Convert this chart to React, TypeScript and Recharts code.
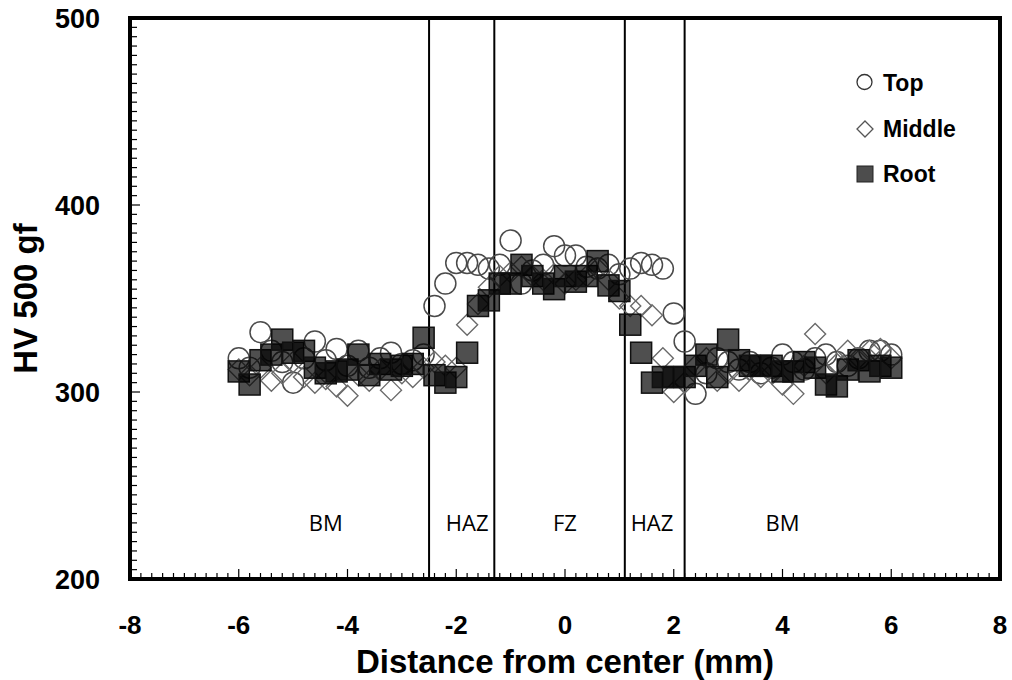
import React from "react";
import {
  ScatterChart,
  Scatter,
  XAxis,
  YAxis,
  ReferenceLine,
  ReferenceArea,
  ReferenceDot,
  Legend,
} from "recharts";

// distance from weld center (mm), one point every 0.2 mm
const distances = [
  -6.0, -5.8, -5.6, -5.4, -5.2, -5.0, -4.8, -4.6, -4.4, -4.2, -4.0, -3.8, -3.6,
  -3.4, -3.2, -3.0, -2.8, -2.6, -2.4, -2.2, -2.0, -1.8, -1.6, -1.4, -1.2, -1.0,
  -0.8, -0.6, -0.4, -0.2, 0.0, 0.2, 0.4, 0.6, 0.8, 1.0, 1.2, 1.4, 1.6, 1.8, 2.0,
  2.2, 2.4, 2.6, 2.8, 3.0, 3.2, 3.4, 3.6, 3.8, 4.0, 4.2, 4.4, 4.6, 4.8, 5.0, 5.2,
  5.4, 5.6, 5.8, 6.0,
];

const topHV = [
  318, 313, 332, 322, 316, 305, 318, 327, 317, 323, 314, 322, 313, 318, 321, 315,
  317, 320, 346, 358, 369, 369, 368, 366, 368, 381, 358, 365, 368, 378, 373, 373,
  367, 366, 368, 363, 366, 369, 368, 366, 342, 327, 299, 310, 318, 316, 312, 316,
  310, 313, 320, 316, 312, 318, 320, 316, 314, 318, 322, 322, 320,
];

const middleHV = [
  312, 309, 313, 306, 310, 316, 308, 305, 307, 303, 298, 309, 306, 312, 301, 310,
  308, 313, 316, 314, 313, 336, 347, 356, 362, 364, 367, 362, 360, 363, 358, 360,
  362, 366, 360, 350, 346, 346, 341, 318, 300, 305, 314, 318, 306, 310, 306, 312,
  308, 310, 304, 299, 314, 331, 310, 315, 322, 318, 322, 323, 318,
];

const rootHV = [
  311, 304, 317, 320, 328, 321, 322, 313, 310, 311, 312, 320, 309, 315, 312, 314,
  315, 329, 309, 305, 308, 321, 346, 349, 358, 358, 368, 362, 358, 355, 362, 359,
  362, 370, 357, 354, 336, 321, 305, 308, 308, 308, 314, 320, 308, 328, 317, 314,
  314, 314, 311, 311, 316, 313, 304, 303, 312, 317, 311, 314, 313,
];

// zone boundaries (mm) and zone names
const boundaries = [-2.5, -1.3, 1.1, 2.2];
const zones = [
  { name: "BM", x: -4.4 },
  { name: "HAZ", x: -1.8 },
  { name: "FZ", x: 0 },
  { name: "HAZ", x: 1.6 },
  { name: "BM", x: 4.0 },
];
const zoneLabelY = 230;

const xMajorTicks = [-8, -6, -4, -2, 0, 2, 4, 6, 8];
const yMajorTicks = [200, 300, 400, 500];

// minor ticks: every 0.2 mm and every 5 HV
const xTicks = Array.from({ length: 81 }, (_, i) => Math.round((-8 + i * 0.2) * 10) / 10);
const yTicks = Array.from({ length: 61 }, (_, i) => 200 + i * 5);

const toPoints = (values: number[]) =>
  distances.map((x, i) => ({ x, y: values[i] }));

const topData = toPoints(topHV);
const middleData = toPoints(middleHV);
const rootData = toPoints(rootHV);

const AXIS_FONT = "'Liberation Sans', Arial, sans-serif";

const XTick = (props: any) => {
  const { x, y, payload } = props;
  const v = payload.value;
  const major = xMajorTicks.some((t) => Math.abs(t - v) < 1e-6);
  return (
    <g>
      <line x1={x} x2={x} y1={y} y2={y - (major ? 10 : 6)} stroke="#000" strokeWidth={1.2} />
      {major && (
        <text
          x={x}
          y={y + 55}
          textAnchor="middle"
          fontFamily={AXIS_FONT}
          fontWeight="bold"
          fontSize={26}
          fill="#000"
        >
          {v}
        </text>
      )}
    </g>
  );
};

const YTick = (props: any) => {
  const { x, y, payload } = props;
  const v = payload.value;
  const major = yMajorTicks.includes(v);
  return (
    <g>
      <line x1={x} x2={x + (major ? 10 : 7)} y1={y} y2={y} stroke="#000" strokeWidth={1.2} />
      {major && (
        <text
          x={x - 30}
          y={y + 10}
          textAnchor="end"
          fontFamily={AXIS_FONT}
          fontWeight="bold"
          fontSize={27}
          fill="#000"
        >
          {v}
        </text>
      )}
    </g>
  );
};

const TopShape = (props: any) => (
  <circle cx={props.cx} cy={props.cy} r={10.5} fill="none" stroke="#4a4a4a" strokeWidth={1.5} />
);

const MiddleShape = (props: any) => {
  const { cx, cy } = props;
  const s = 10.5;
  return (
    <path
      d={`M${cx},${cy - s}L${cx + s},${cy}L${cx},${cy + s}L${cx - s},${cy}Z`}
      fill="none"
      stroke="#6a6a6a"
      strokeWidth={1.4}
    />
  );
};

const RootShape = (props: any) => (
  <rect
    x={props.cx - 10.5}
    y={props.cy - 10.5}
    width={21}
    height={21}
    fill="#000"
    fillOpacity={0.69}
    stroke="#111"
    strokeWidth={1.5}
  />
);

const renderLegend = () => {
  const textStyle = {
    fontFamily: AXIS_FONT,
    fontWeight: "bold" as const,
    fontSize: 23,
    fill: "#000",
  };
  return (
    <svg width={140} height={135}>
      <circle cx={14.5} cy={22} r={7.5} fill="none" stroke="#333" strokeWidth={1.3} />
      <text x={33} y={31} {...textStyle}>Top</text>
      <path d="M15,61L23,69L15,77L7,69Z" fill="none" stroke="#555" strokeWidth={1.3} />
      <text x={33} y={77} {...textStyle}>Middle</text>
      <rect x={7} y={106} width={16} height={16} fill="#4d4d4d" stroke="#222" strokeWidth={1} />
      <text x={33} y={122} {...textStyle}>Root</text>
    </svg>
  );
};

export default function App() {
  return (
    <div style={{ position: "absolute", left: 0, top: 0, background: "#fff" }}>
      <ScatterChart
        width={1012}
        height={680}
        margin={{ top: 18, right: 12, left: 0, bottom: 0 }}
      >
        <XAxis
          type="number"
          dataKey="x"
          domain={[-8, 8]}
          ticks={xTicks}
          interval={0}
          tickSize={0}
          tickMargin={0}
          tick={<XTick />}
          axisLine={false}
          height={101}
          allowDataOverflow
          label={(p: any) => {
            const vb = p.viewBox;
            return (
              <text
                x={vb.x + vb.width / 2}
                y={vb.y + 94}
                textAnchor="middle"
                fontFamily={AXIS_FONT}
                fontWeight="bold"
                fontSize={33}
                fill="#000"
              >
                Distance from center (mm)
              </text>
            );
          }}
        />
        <YAxis
          type="number"
          dataKey="y"
          domain={[200, 500]}
          ticks={yTicks}
          interval={0}
          tickSize={0}
          tickMargin={0}
          tick={<YTick />}
          axisLine={false}
          width={130}
          allowDataOverflow
          label={(p: any) => {
            const vb = p.viewBox;
            const cx = 25;
            const cy = vb.y + vb.height / 2;
            return (
              <text
                x={cx}
                y={cy}
                transform={`rotate(-90 ${cx} ${cy})`}
                textAnchor="middle"
                dominantBaseline="central"
                fontFamily={AXIS_FONT}
                fontWeight="bold"
                fontSize={33}
                fill="#000"
              >
                HV 500 gf
              </text>
            );
          }}
        />
        {boundaries.map((b) => (
          <ReferenceLine key={b} x={b} stroke="#000" strokeWidth={2} />
        ))}
        {zones.map((z, i) => (
          <ReferenceDot
            key={i}
            x={z.x}
            y={zoneLabelY}
            r={1}
            fill="none"
            stroke="none"
            label={{
              value: z.name,
              position: "center",
              fontSize: 22,
              fontFamily: "'Open Sans', 'Noto Sans', sans-serif",
              fill: "#000",
            }}
          />
        ))}
        <Scatter name="Top" data={topData} shape={<TopShape />} isAnimationActive={false} />
        <Scatter name="Middle" data={middleData} shape={<MiddleShape />} isAnimationActive={false} />
        <Scatter name="Root" data={rootData} shape={<RootShape />} isAnimationActive={false} />
        <ReferenceArea
          x1={-8}
          x2={8}
          y1={200}
          y2={500}
          fill="none"
          fillOpacity={0}
          stroke="#000"
          strokeWidth={4}
          ifOverflow="visible"
        />
        <Legend
          layout="vertical"
          align="center"
          verticalAlign="middle"
          content={renderLegend}
          wrapperStyle={{ top: 60, left: 850, width: 140, height: 135 }}
        />
      </ScatterChart>
    </div>
  );
}
